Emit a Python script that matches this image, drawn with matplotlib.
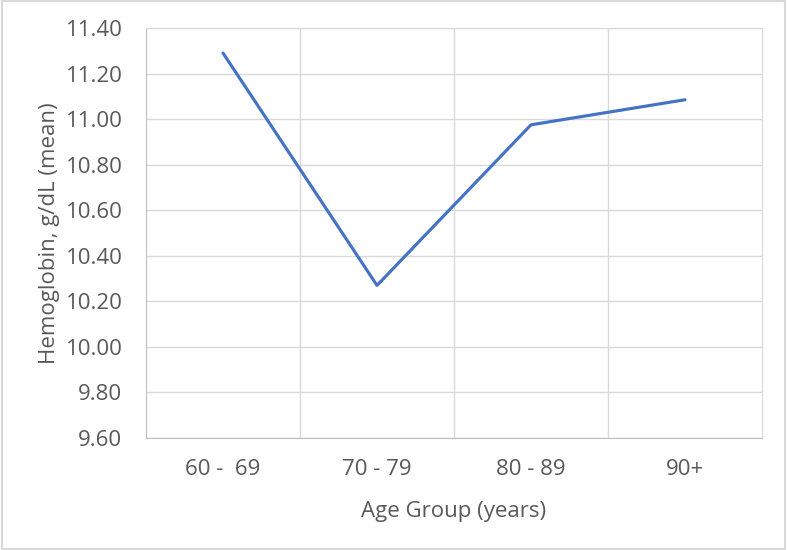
import matplotlib
matplotlib.use("Agg")
import matplotlib.pyplot as plt
from matplotlib.patches import Rectangle

# data
age_groups = ["60 -  69", "70 - 79", "80 - 89", "90+"]
hemoglobin = [11.29, 10.27, 10.975, 11.085]
yticks = [9.6, 9.8, 10.0, 10.2, 10.4, 10.6, 10.8, 11.0, 11.2, 11.4]

plt.rcParams['font.family'] = ['Open Sans', 'DejaVu Sans']
txt = '#595959'
grid = '#D9D9D9'

fig = plt.figure(figsize=(7.87, 5.5), dpi=100)
ax = fig.add_axes([146/787, 112/550, 616/787, 410/550])

x = list(range(len(age_groups)))
ax.plot(x, hemoglobin, color='#4472C4', lw=2.25, solid_capstyle='round', zorder=3)

ax.set_xlim(-0.5, len(age_groups) - 0.5)
ax.set_ylim(9.6, 11.4)
ax.set_yticks(yticks)
ax.set_yticklabels(["%.2f" % v for v in yticks])
ax.set_xticks(x)
ax.set_xticklabels(age_groups)
# category boundary gridlines
ax.set_xticks([i + 0.5 for i in range(len(age_groups) - 1)], minor=True)
ax.grid(True, axis='y', color=grid, lw=1)
ax.grid(True, axis='x', which='minor', color=grid, lw=1)
ax.tick_params(axis='both', which='both', length=0, colors=txt, labelsize=16)
ax.tick_params(axis='x', pad=15)
ax.tick_params(axis='y', pad=17)

for s in ax.spines.values():
    s.set_color(grid)
ax.spines['bottom'].set_color('#BFBFBF')
ax.spines['left'].set_color('#BFBFBF')

ax.set_xlabel("Age Group (years)", color=txt, fontsize=16, labelpad=15)
ax.set_ylabel("Hemoglobin, g/dL (mean)", color=txt, fontsize=16, labelpad=4)

fig.patches.append(Rectangle((0.002, 0.002), 0.996, 0.996, transform=fig.transFigure,
                             fill=False, edgecolor=grid, lw=1.5))

fig.savefig("out.png", dpi=100)
